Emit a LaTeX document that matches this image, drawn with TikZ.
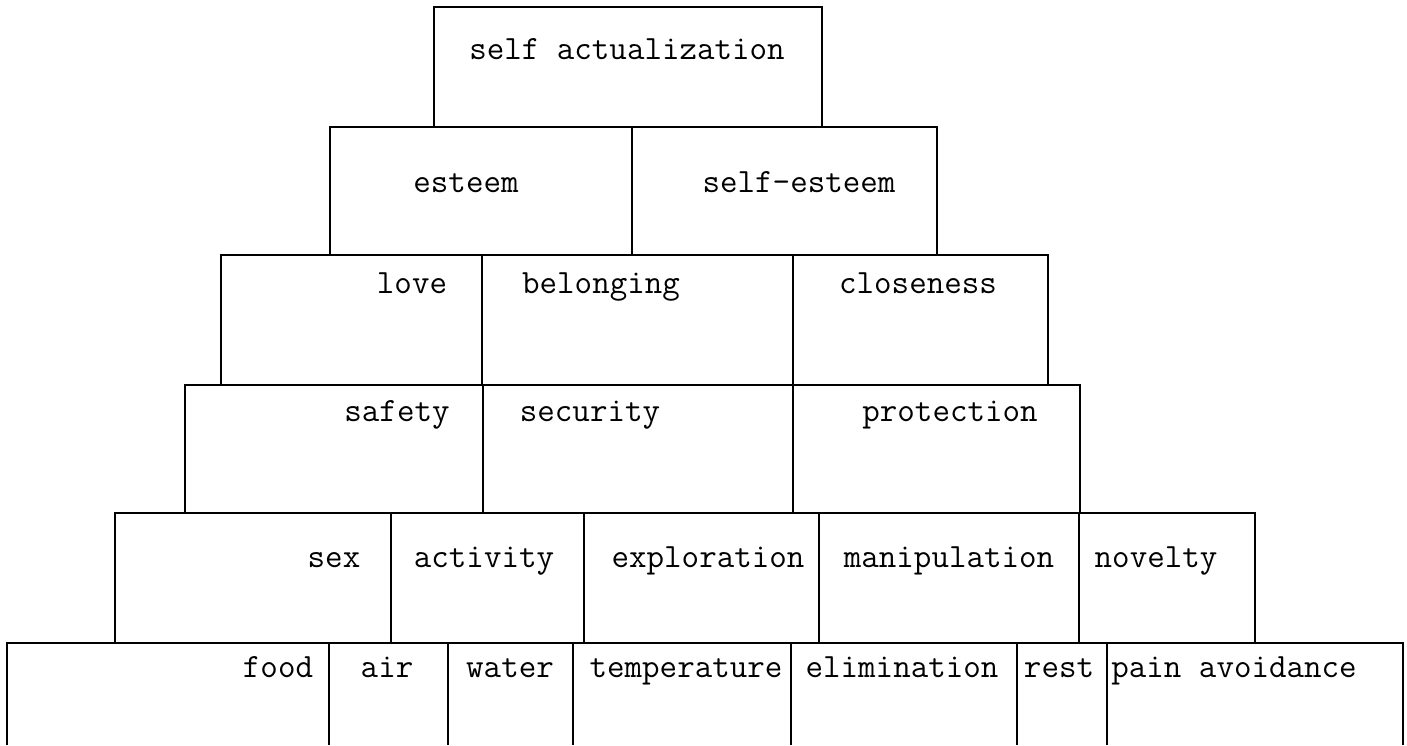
\documentclass[tikz,border=0pt]{standalone}
\begin{document}
\begin{tikzpicture}[x=1pt,y=-1pt,
  grid/.style={line width=1.8pt,black},
  lbl/.style={font=\fontsize{34}{34}\selectfont\ttfamily, inner sep=0pt, anchor=mid}]
\useasboundingbox (0,0) rectangle (1407,745);
% row 1
\draw[grid] (434,7) rectangle (822,127);
% row 2
\draw[grid] (330,127) rectangle (937,255);
\draw[grid] (632,127) -- (632,255);
% row 3
\draw[grid] (221,255) rectangle (1048,385);
\draw[grid] (482,255) -- (482,385);
\draw[grid] (793,255) -- (793,385);
% row 4
\draw[grid] (185,385) rectangle (1080,513);
\draw[grid] (483,385) -- (483,513);
\draw[grid] (793,385) -- (793,513);
% row 5
\draw[grid] (115,513) rectangle (1255,643);
\foreach \xx in {391,584,819,1079} \draw[grid] (\xx,513) -- (\xx,643);
% row 6
\draw[grid] (7,745) -- (7,643) -- (1403,643) -- (1403,745);
\foreach \xx in {329,448,573,791,1017,1107} \draw[grid] (\xx,643) -- (\xx,745);
% labels
\node[lbl] (t1) at (627,57) {self actualization};
\node[lbl] (e1) at (466,190) {esteem};
\node[lbl] (e2) at (799,190) {self-esteem};
\node[lbl] (l1) at (412,291) {love};
\node[lbl] (l2) at (601,291) {belonging};
\node[lbl] (l3) at (918,291) {closeness};
\node[lbl] (s1) at (397,419) {safety};
\node[lbl] (s2) at (590,419) {security};
\node[lbl] (s3) at (950,419) {protection};
\node[lbl] (p1) at (334,565) {sex};
\node[lbl] (p2) at (484,565) {activity};
\node[lbl] (p3) at (708,565) {exploration};
\node[lbl] (p4) at (949,565) {manipulation};
\node[lbl] (p5) at (1156,565) {novelty};
\node[lbl] (b1) at (278,675) {food};
\node[lbl] (b2) at (387,675) {air};
\node[lbl] (b3) at (510,675) {water};
\node[lbl] (b4) at (686,675) {temperature};
\node[lbl] (b5) at (902,675) {elimination};
\node[lbl] (b6) at (1059,675) {rest};
\node[lbl] (b7) at (1234,675) {pain avoidance};
\end{tikzpicture}
\end{document}
